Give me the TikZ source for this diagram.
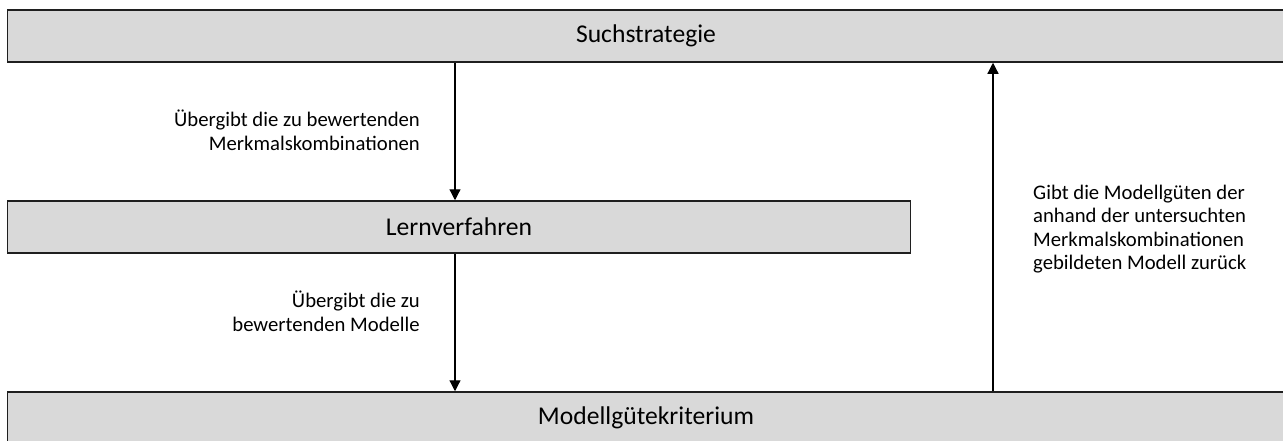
\documentclass[tikz,border=0pt]{standalone}
\usepackage{fontspec}
\setmainfont{Carlito}
\usetikzlibrary{arrows.meta}
\begin{document}
\begin{tikzpicture}[x=1pt,y=-1pt,
  stage/.style={draw=black!88,line width=1.5pt,fill=black!15,inner sep=0pt,
    font=\fontsize{25.6}{30}\selectfont},
  flow/.style={line width=1.2pt,-{Triangle[width=11pt,length=11pt]}},
  note/.style={inner sep=0pt,font=\fontsize{20.7}{23.6}\selectfont}]
\useasboundingbox (0,0) rectangle (1283,440);
\clip (0,0) rectangle (1283,440);
\fill[white] (0,0) rectangle (1283,440);
% three processing stages
\node[stage,minimum width=1277pt,minimum height=52pt] (such) at (646,36) {Suchstrategie};
\node[stage,minimum width=903pt,minimum height=52pt] (lern) at (459,227) {Lernverfahren};
\node[stage,minimum width=1277pt,minimum height=52pt] (guete) at (646,418) {Modellgütekriterium};
% connectors
\coordinate (a1) at (455,0);
\coordinate (a3) at (993,0);
\draw[flow] (such.south -| a1) -- (lern.north -| a1);
\draw[flow] (lern.south -| a1) -- (guete.north -| a1);
\draw[flow] (guete.north -| a3) -- (such.south -| a3);
% labels
\node[note,align=right,anchor=east] (l1) at (420,130) {Übergibt die zu bewertenden\\Merkmalskombinationen};
\node[note,align=right,anchor=east] (l2) at (420,311) {Übergibt die zu\\bewertenden Modelle};
\node[note,align=left,anchor=west] (l3) at (1033,229) {Gibt die Modellgüten der\\anhand der untersuchten\\Merkmalskombinationen\\gebildeten Modell zurück};
\end{tikzpicture}
\end{document}
